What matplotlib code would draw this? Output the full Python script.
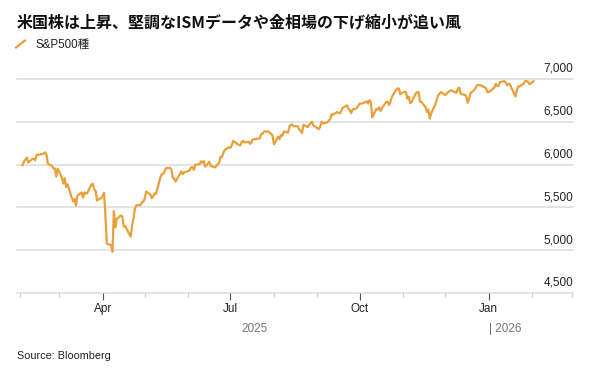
import pandas as pd
import numpy as np
import matplotlib
matplotlib.use("Agg")
import matplotlib.pyplot as plt
import matplotlib.dates as mdates
from matplotlib.lines import Line2D
import matplotlib.transforms as mtransforms

plt.rcParams["font.family"] = ["Liberation Sans", "Noto Sans CJK JP", "DejaVu Sans"]

title = "米国株は上昇、堅調なISMデータや金相場の下げ縮小が追い風"
series_name = "S&P500種"
source = "Source: Bloomberg"

# US market holidays inside the window
holidays = ["2025-02-17", "2025-04-18", "2025-05-26", "2025-06-19", "2025-07-04",
            "2025-09-01", "2025-11-27", "2025-12-25", "2026-01-01", "2026-01-19"]

spx = [
    # Feb 2025
    5994.57, 6037.88, 6061.48, 6083.57, 6025.99, 6066.44, 6068.50, 6051.97, 6115.07, 6114.63,
    6129.58, 6144.15, 6117.52, 6013.13, 5983.25, 5955.25, 5956.06, 5861.57, 5954.50,
    # Mar
    5849.72, 5778.15, 5842.63, 5738.52, 5770.20, 5614.56, 5572.07, 5599.30, 5521.52, 5638.94,
    5675.12, 5614.66, 5675.29, 5662.89, 5667.56, 5767.57, 5776.65, 5712.20, 5693.31, 5580.94,
    5611.85,
    # Apr
    5633.07, 5670.97, 5396.52, 5074.08, 5062.25, 4982.77, 5456.90, 5268.05, 5363.36, 5405.97,
    5396.63, 5275.70, 5282.70, 5158.20, 5287.76, 5375.86, 5484.77, 5525.21, 5528.75, 5560.83,
    5569.06,
    # May
    5604.14, 5686.67, 5650.38, 5606.91, 5631.28, 5663.94, 5659.91, 5844.19, 5886.55, 5892.58,
    5916.93, 5958.38, 5963.60, 5940.46, 5844.61, 5842.01, 5802.82, 5921.54, 5888.55, 5912.17,
    5911.69,
    # Jun
    5935.94, 5970.37, 5970.81, 5939.30, 6000.36, 6005.88, 6038.81, 6022.24, 6045.26, 5976.97,
    6033.11, 5982.72, 5980.87, 5967.84, 6025.17, 6092.18, 6092.16, 6141.02, 6173.07, 6204.95,
    # Jul
    6198.01, 6227.42, 6279.35, 6229.98, 6225.52, 6263.26, 6280.46, 6259.75, 6268.56, 6243.76,
    6263.70, 6297.36, 6296.79, 6305.60, 6309.62, 6358.91, 6363.35, 6388.64, 6389.77, 6370.86,
    6362.90, 6339.39,
    # Aug
    6238.01, 6329.94, 6299.19, 6345.06, 6340.00, 6389.45, 6373.45, 6445.76, 6466.58, 6468.54,
    6449.80, 6449.15, 6411.37, 6395.78, 6370.17, 6466.91, 6439.32, 6465.94, 6481.40, 6501.86,
    6460.26,
    # Sep
    6415.54, 6448.26, 6502.08, 6481.50, 6495.15, 6512.61, 6532.04, 6587.47, 6584.29, 6615.28,
    6606.76, 6600.35, 6631.96, 6664.36, 6693.75, 6656.92, 6637.97, 6604.72, 6643.70, 6661.21,
    6688.46,
    # Oct
    6711.20, 6715.35, 6715.79, 6740.28, 6714.59, 6753.72, 6735.11, 6552.51, 6654.72, 6644.31,
    6671.06, 6629.07, 6664.01, 6735.13, 6735.35, 6699.40, 6738.44, 6791.69, 6875.16, 6890.89,
    6890.59, 6822.34, 6840.20,
    # Nov
    6851.97, 6771.55, 6796.29, 6720.32, 6728.80, 6832.43, 6846.61, 6850.92, 6737.49, 6734.11,
    6672.41, 6617.32, 6642.16, 6538.76, 6602.99, 6705.12, 6765.88, 6812.61, 6849.09,
    # Dec
    6812.63, 6829.37, 6849.72, 6857.12, 6870.40, 6846.51, 6840.51, 6886.68, 6901.00, 6827.41,
    6816.51, 6800.26, 6721.43, 6774.76, 6834.50, 6878.49, 6909.79, 6932.05, 6929.94, 6905.74,
    6896.24, 6845.50,
    # Jan 2026
    6858.47, 6902.05, 6944.82, 6920.93, 6921.46, 6966.28, 6977.27, 6963.74, 6926.60, 6944.47,
    6940.01, 6796.86, 6875.62, 6913.35, 6915.61, 6950.23, 6978.60, 6978.03, 6969.01, 6939.03,
    # Feb 2026
    6976.44,
]

days = pd.bdate_range("2025-02-03", "2026-02-02")
days = days[~days.isin(pd.to_datetime(holidays))]
n = min(len(days), len(spx))
days = days[:n]
spx = spx[:n]

y_ticks = [4500, 5000, 5500, 6000, 6500, 7000]

W, H = 591, 384
fig = plt.figure(figsize=(W / 100, H / 100), dpi=100)
ax = fig.add_axes([17 / W, 1 - 293 / H, (573 - 17) / W, (293 - 60) / H])

ax.plot(days, spx, color="#E9A03B", lw=1.6, solid_joinstyle="round", zorder=3)

ax.set_xlim(pd.Timestamp("2025-01-30"), pd.Timestamp("2026-03-02"))
ax.set_ylim(4500, 7224)

for s in ax.spines.values():
    s.set_visible(False)

for v in y_ticks:
    ax.axhline(v, color="#dddddd", lw=1.1, zorder=1, clip_on=False)
    ax.annotate(f"{v:,}", xy=(1.0, v), xycoords=("axes fraction", "data"),
                xytext=(0, 3), textcoords="offset points",
                ha="right", va="bottom", fontsize=8.5, color="#222222")
ax.set_yticks([])

ax.xaxis.set_major_locator(mdates.MonthLocator(bymonth=[1, 4, 7, 10]))
ax.xaxis.set_major_formatter(mdates.DateFormatter("%b"))
ax.xaxis.set_minor_locator(mdates.MonthLocator())
ax.tick_params(axis="x", which="major", length=5, width=0.8, color="#555555",
               labelsize=8.5, labelcolor="#222222", pad=2.5)
ax.tick_params(axis="x", which="minor", length=3, width=0.8, color="#cccccc")

trans = mtransforms.blended_transform_factory(ax.transData, ax.transAxes)
ax.text(pd.Timestamp("2025-07-18"), -36 / 233, "2025", transform=trans,
        ha="center", va="center", fontsize=8.5, color="#777777")
ax.text(pd.Timestamp("2026-01-01"), -36 / 233, "| 2026", transform=trans,
        ha="left", va="center", fontsize=8.5, color="#777777")

fig.text(17 / W, 1 - 22 / H, title, ha="left", va="center", fontsize=11.5,
         fontweight="bold", family=["Noto Sans CJK JP", "DejaVu Sans"], color="#111111")
fig.add_artist(Line2D([16 / W, 25 / W], [1 - 47.5 / H, 1 - 40.5 / H],
                      color="#E9A03B", lw=1.6, transform=fig.transFigure))
fig.text(36 / W, 1 - 45 / H, series_name, ha="left", va="center", fontsize=8.3,
         color="#222222")
fig.text(17 / W, 1 - 356 / H, source, ha="left", va="center", fontsize=7.8,
         color="#222222")

fig.savefig("out.png", dpi=100)
